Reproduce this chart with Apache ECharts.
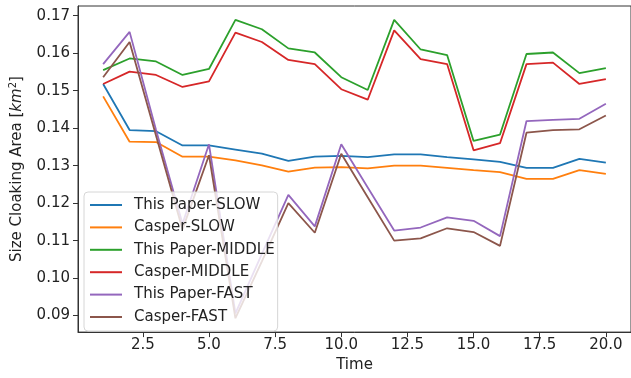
<!DOCTYPE html>
<html>
<head>
<meta charset="utf-8">
<script src="https://cdn.jsdelivr.net/npm/echarts@6/dist/echarts.min.js"></script>
<style>
  html, body { margin: 0; padding: 0; background: #fff; }
  #main { width: 631px; height: 378px; }
</style>
</head>
<body>
<div id="main"></div>
<script>
var times = [1, 2, 3, 4, 5, 6, 7, 8, 9, 10, 11, 12, 13, 14, 15, 16, 17, 18, 19, 20];
var xTicks = [2.5, 5, 7.5, 10, 12.5, 15, 17.5, 20];
var yTicks = [0.09, 0.10, 0.11, 0.12, 0.13, 0.14, 0.15, 0.16, 0.17];

var paperSlow   = [0.1518, 0.1395, 0.1392, 0.1354, 0.1354, 0.1343, 0.1332, 0.1313, 0.1324, 0.1326, 0.1323, 0.1330, 0.1330, 0.1323, 0.1317, 0.1310, 0.1294, 0.1294, 0.1318, 0.1308];
var casperSlow  = [0.1485, 0.1364, 0.1363, 0.1324, 0.1324, 0.1314, 0.1301, 0.1284, 0.1295, 0.1296, 0.1293, 0.1300, 0.1300, 0.1294, 0.1288, 0.1283, 0.1265, 0.1265, 0.1288, 0.1278];
var paperMiddle = [0.1555, 0.1586, 0.1578, 0.1542, 0.1558, 0.1689, 0.1664, 0.1613, 0.1602, 0.1536, 0.1502, 0.1689, 0.1610, 0.1595, 0.1366, 0.1383, 0.1598, 0.1602, 0.1547, 0.1560];
var casperMiddle = [0.1518, 0.1551, 0.1542, 0.1510, 0.1525, 0.1655, 0.1630, 0.1582, 0.1571, 0.1504, 0.1476, 0.1661, 0.1584, 0.1571, 0.1341, 0.1360, 0.1571, 0.1575, 0.1518, 0.1531];
var paperFast   = [0.1571, 0.1657, 0.1395, 0.1145, 0.1357, 0.0906, 0.1065, 0.1222, 0.1138, 0.1357, 0.1242, 0.1127, 0.1135, 0.1162, 0.1153, 0.1112, 0.1419, 0.1422, 0.1425, 0.1465];
var casperFast  = [0.1536, 0.1630, 0.1380, 0.1130, 0.1328, 0.0893, 0.1045, 0.1200, 0.1121, 0.1332, 0.1216, 0.1100, 0.1106, 0.1133, 0.1123, 0.1086, 0.1388, 0.1395, 0.1397, 0.1434];

var names = ['This Paper-SLOW', 'Casper-SLOW', 'This Paper-MIDDLE', 'Casper-MIDDLE', 'This Paper-FAST', 'Casper-FAST'];
var colors = ['#1f77b4', '#ff7f0e', '#2ca02c', '#d62728', '#9467bd', '#8c564b'];
var values = [paperSlow, casperSlow, paperMiddle, casperMiddle, paperFast, casperFast];

function pairs(vals) {
  return times.map(function (t, i) { return [t, vals[i]]; });
}

var font = 'DejaVu Sans';
var myChart = echarts.init(document.getElementById('main'));

var option = {
  animation: false,
  color: colors,
  grid: {
    left: 76, top: 6, width: 558, bottom: 39,
    show: true, borderColor: '#333', borderWidth: 1
  },
  legend: {
    orient: 'vertical',
    left: 84, top: 192,
    padding: [4, 3, 5, 6],
    icon: 'rect',
    itemWidth: 32, itemHeight: 2, itemGap: 4.4,
    backgroundColor: 'rgba(255,255,255,0.8)',
    borderColor: '#d6d6d6', borderWidth: 1, borderRadius: 4,
    textStyle: { fontFamily: font, fontSize: 15, color: '#222', lineHeight: 18, padding: [0, 0, 0, 7] },
    data: names
  },
  xAxis: {
    type: 'value',
    min: 0.05, max: 20.95,
    name: 'Time', nameLocation: 'middle', nameGap: 22,
    nameTextStyle: { fontFamily: font, fontSize: 15, color: '#222' },
    splitLine: { show: false },
    axisLine: { show: true, onZero: false, lineStyle: { color: '#333', width: 1 } },
    axisTick: { show: true, length: 5, customValues: xTicks, lineStyle: { color: '#333' } },
    axisLabel: {
      margin: 6, fontFamily: font, fontSize: 15, color: '#222',
      customValues: xTicks,
      formatter: function (v) { return v.toFixed(1); }
    }
  },
  yAxis: {
    type: 'value',
    min: 0.0856, max: 0.1726,
    name: '{t|Size Cloaking Area [}{i|km}{s|2}{t|]}',
    nameLocation: 'middle', nameGap: 52, nameRotate: 90,
    nameTextStyle: {
      fontFamily: font, fontSize: 15, color: '#222',
      rich: {
        t: { fontFamily: font, fontSize: 15, color: '#222' },
        i: { fontFamily: font, fontSize: 15, fontStyle: 'italic', color: '#222' },
        s: { fontFamily: font, fontSize: 10, color: '#222', verticalAlign: 'top', padding: [0, 0, 8, 0] }
      }
    },
    splitLine: { show: false },
    axisLine: { show: true, onZero: false, lineStyle: { color: '#333', width: 1 } },
    axisTick: { show: true, length: 5, customValues: yTicks, lineStyle: { color: '#333' } },
    axisLabel: {
      margin: 8, fontFamily: font, fontSize: 15, color: '#222',
      customValues: yTicks,
      formatter: function (v) { return v.toFixed(2); }
    }
  },
  series: names.map(function (n, i) {
    return {
      name: n,
      type: 'line',
      symbol: 'none',
      data: pairs(values[i]),
      lineStyle: { width: 1.8, color: colors[i] },
      itemStyle: { color: colors[i] }
    };
  })
};

myChart.setOption(option);
</script>
</body>
</html>
